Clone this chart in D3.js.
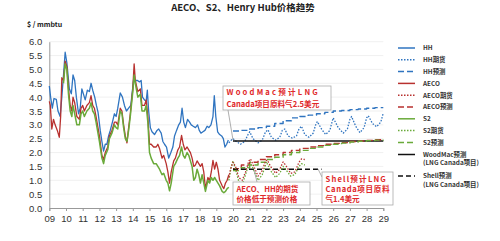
<!DOCTYPE html>
<html>
<head>
<meta charset="utf-8">
<script src="https://cdn.jsdelivr.net/npm/d3@7"></script>
<style>
  body { margin: 0; background: #fff; }
  svg { font-family: "Liberation Sans", Arial, "Noto Sans CJK SC", sans-serif; }
  .ann { font-family: "Noto Sans CJK SC", sans-serif; font-weight: bold; fill: #e0282a; font-size: 7.6px; }
  .leg { font-family: "Noto Sans CJK SC", sans-serif; font-size: 6.4px; font-weight: bold; fill: #333; }
</style>
</head>
<body>
<svg id="chart" width="500" height="241"></svg>
<script>
// ---- data (year fraction, $/mmbtu) ----
const hh = [[2009.0,4.4],[2009.08,4.0],[2009.18,3.6],[2009.28,3.95],[2009.42,3.92],[2009.52,3.5],[2009.65,3.3],[2009.75,4.0],[2009.85,4.8],[2009.95,5.62],[2010.05,5.25],[2010.2,4.3],[2010.32,4.12],[2010.42,4.8],[2010.52,4.6],[2010.62,4.0],[2010.75,3.4],[2010.85,3.6],[2010.95,4.3],[2011.05,4.1],[2011.15,3.9],[2011.28,4.25],[2011.4,4.2],[2011.5,4.5],[2011.6,4.25],[2011.72,4.0],[2011.82,3.7],[2011.92,3.45],[2012.05,2.8],[2012.15,2.4],[2012.25,2.05],[2012.35,2.3],[2012.45,2.3],[2012.55,2.6],[2012.65,2.8],[2012.78,3.1],[2012.9,3.4],[2013.0,3.3],[2013.1,3.6],[2013.25,4.15],[2013.38,4.0],[2013.5,3.7],[2013.62,3.5],[2013.75,3.6],[2013.88,3.7],[2013.97,4.2],[2014.05,4.65],[2014.15,4.6],[2014.28,4.6],[2014.4,4.55],[2014.5,4.6],[2014.58,4.0],[2014.7,3.9],[2014.8,3.85],[2014.87,4.25],[2014.95,3.5],[2015.05,2.9],[2015.15,2.75],[2015.3,2.65],[2015.45,2.8],[2015.55,2.85],[2015.7,2.7],[2015.8,2.4],[2015.9,2.3],[2016.02,2.2],[2016.15,1.8],[2016.28,2.0],[2016.4,2.2],[2016.5,2.6],[2016.62,2.8],[2016.75,3.0],[2016.85,3.1],[2016.95,3.6],[2017.05,3.1],[2017.15,2.9],[2017.28,3.2],[2017.4,3.1],[2017.5,3.0],[2017.62,2.95],[2017.75,2.9],[2017.88,3.0],[2017.98,2.8],[2018.08,2.7],[2018.2,2.75],[2018.32,2.8],[2018.45,2.95],[2018.55,2.9],[2018.68,3.0],[2018.8,3.3],[2018.88,4.05],[2018.97,3.3],[2019.08,2.75],[2019.2,2.65],[2019.32,2.6],[2019.42,2.5],[2019.52,2.2],[2019.62,2.3],[2019.72,2.45]];
const aeco = [[2009.0,3.85],[2009.06,3.7],[2009.15,2.85],[2009.25,3.2],[2009.35,3.0],[2009.48,2.8],[2009.6,2.55],[2009.68,3.3],[2009.75,4.7],[2009.85,4.6],[2009.95,5.3],[2010.05,5.1],[2010.15,4.3],[2010.25,3.7],[2010.35,3.5],[2010.42,4.0],[2010.52,3.8],[2010.65,3.3],[2010.8,3.2],[2010.9,3.6],[2011.0,3.7],[2011.1,3.5],[2011.25,3.7],[2011.4,3.8],[2011.5,4.05],[2011.6,3.7],[2011.7,3.6],[2011.8,3.3],[2012.0,2.6],[2012.15,1.9],[2012.25,1.75],[2012.35,2.0],[2012.5,2.2],[2012.6,2.6],[2012.75,2.8],[2012.9,3.1],[2013.0,3.1],[2013.1,3.0],[2013.25,3.6],[2013.35,3.5],[2013.45,3.0],[2013.55,2.6],[2013.65,2.35],[2013.75,2.9],[2013.85,3.4],[2014.0,4.3],[2014.08,5.2],[2014.15,4.6],[2014.3,4.2],[2014.45,4.3],[2014.55,3.7],[2014.7,3.7],[2014.8,3.9],[2014.9,3.3],[2015.0,2.3],[2015.1,2.3],[2015.25,2.2],[2015.4,2.2],[2015.5,2.3],[2015.6,2.15],[2015.75,1.8],[2015.85,1.9],[2016.0,1.6],[2016.1,1.3],[2016.2,0.9],[2016.3,1.3],[2016.45,1.7],[2016.55,1.8],[2016.7,2.1],[2016.8,2.2],[2016.92,2.62],[2017.02,2.3],[2017.12,2.1],[2017.25,2.2],[2017.35,2.1],[2017.45,2.0],[2017.55,1.8],[2017.65,1.5],[2017.75,1.55],[2017.85,1.7],[2017.95,1.6],[2018.05,1.5],[2018.15,1.6],[2018.25,1.3],[2018.35,0.7],[2018.5,1.1],[2018.6,1.0],[2018.7,1.3],[2018.8,1.72],[2018.9,1.4],[2019.0,1.65],[2019.1,1.4],[2019.2,1.0],[2019.35,0.8],[2019.45,0.7],[2019.55,0.9],[2019.65,1.0],[2019.75,1.2]];
const s2 = [[2009.85,4.5],[2009.95,5.2],[2010.05,5.0],[2010.15,4.1],[2010.25,3.5],[2010.35,3.3],[2010.42,3.7],[2010.52,3.4],[2010.65,3.0],[2010.8,3.0],[2010.9,3.4],[2011.0,3.5],[2011.1,3.3],[2011.25,3.5],[2011.4,3.6],[2011.5,3.8],[2011.6,3.5],[2011.7,3.4],[2011.8,3.1],[2012.0,2.4],[2012.15,1.8],[2012.25,1.6],[2012.35,1.9],[2012.5,2.1],[2012.6,2.5],[2012.75,2.7],[2012.9,3.0],[2013.0,2.9],[2013.1,2.85],[2013.25,3.5],[2013.35,3.4],[2013.45,2.9],[2013.55,2.5],[2013.65,2.4],[2013.75,2.8],[2013.85,3.3],[2014.0,4.2],[2014.08,4.8],[2014.15,4.5],[2014.3,4.0],[2014.45,4.1],[2014.55,3.5],[2014.7,3.5],[2014.8,3.7],[2014.9,3.1],[2015.0,2.0],[2015.1,1.8],[2015.25,1.6],[2015.4,1.6],[2015.5,1.5],[2015.6,1.4],[2015.75,1.2],[2015.85,1.25],[2016.0,1.0],[2016.1,0.9],[2016.2,0.62],[2016.3,0.9],[2016.45,1.5],[2016.55,1.6],[2016.7,1.8],[2016.8,1.9],[2016.92,2.2],[2017.02,1.9],[2017.12,1.8],[2017.25,2.0],[2017.35,1.9],[2017.45,1.7],[2017.55,1.5],[2017.65,1.0],[2017.75,1.1],[2017.85,1.4],[2017.95,1.2],[2018.05,0.9],[2018.15,1.2],[2018.25,0.9],[2018.35,0.6],[2018.5,1.0],[2018.6,0.9],[2018.7,1.1],[2018.8,1.0],[2018.9,1.1],[2019.0,1.0],[2019.1,0.9],[2019.2,0.8],[2019.35,0.6],[2019.45,0.55],[2019.55,0.6],[2019.65,0.7],[2019.75,0.75]];

const hhFut = [[2019.75,2.35],[2019.9,2.45],[2020.0,2.5],[2020.2,2.4],[2020.45,2.3],[2020.7,2.4],[2020.9,2.65],[2021.0,2.75],[2021.2,2.5],[2021.5,2.35],[2021.75,2.45],[2021.95,2.75],[2022.1,2.82],[2022.3,2.55],[2022.55,2.45],[2022.8,2.55],[2022.95,2.8],[2023.1,2.85],[2023.3,2.6],[2023.55,2.52],[2023.8,2.6],[2023.95,2.85],[2024.1,2.95],[2024.3,2.65],[2024.55,2.55],[2024.8,2.7],[2024.95,3.0],[2025.05,3.12],[2025.3,2.85],[2025.55,2.65],[2025.8,2.8],[2025.95,3.15],[2026.0,3.25],[2026.3,2.9],[2026.6,2.7],[2026.85,2.85],[2027.0,3.2],[2027.1,3.3],[2027.35,2.95],[2027.6,2.72],[2027.85,2.9],[2028.0,3.25],[2028.1,3.33],[2028.35,3.05],[2028.6,2.93],[2028.85,3.1],[2029.0,3.43]];
const aecoFut = [[2019.75,1.1],[2019.85,1.4],[2020.0,1.65],[2020.15,1.5],[2020.35,1.1],[2020.55,1.0],[2020.75,1.3],[2020.95,1.7],[2021.05,1.77],[2021.25,1.5],[2021.5,1.15],[2021.75,1.35],[2021.95,1.7],[2022.05,1.73],[2022.25,1.5],[2022.55,1.25],[2022.8,1.4],[2023.0,1.66],[2023.15,1.55],[2023.45,1.25],[2023.7,1.3],[2023.95,1.65],[2024.1,1.77],[2024.3,1.75]];
const s2Fut = [[2019.75,1.0],[2019.9,1.5],[2020.0,1.7],[2020.15,1.4],[2020.35,0.95],[2020.55,0.85],[2020.75,1.2],[2020.95,1.6],[2021.05,1.65],[2021.25,1.35],[2021.5,1.0],[2021.75,1.2],[2021.95,1.55],[2022.05,1.6],[2022.25,1.35],[2022.55,1.1],[2022.8,1.25],[2023.0,1.5],[2023.15,1.4],[2023.45,1.15],[2023.7,1.2],[2023.95,1.5],[2024.1,1.6],[2024.3,1.55]];

const hhFc = [[2020.0,2.78],[2020.5,2.8],[2021.0,2.85],[2021.5,2.9],[2022.0,2.95],[2022.5,3.05],[2023.0,3.15],[2023.5,3.25],[2024.0,3.3],[2024.5,3.35],[2025.0,3.4],[2025.5,3.45],[2026.0,3.5],[2026.5,3.52],[2027.0,3.55],[2027.5,3.57],[2028.0,3.6],[2028.5,3.62],[2029.0,3.62]];
const aecoFc = [[2020.0,1.42],[2020.5,1.55],[2021.0,1.65],[2021.5,1.75],[2022.0,1.85],[2022.5,1.92],[2023.0,2.0],[2023.5,2.08],[2024.0,2.15],[2024.5,2.2],[2025.0,2.25],[2025.5,2.3],[2026.0,2.33],[2026.5,2.36],[2027.0,2.4],[2027.5,2.42],[2028.0,2.44],[2028.5,2.46],[2029.0,2.47]];
const s2Fc = [[2020.0,1.35],[2020.5,1.45],[2021.0,1.55],[2021.5,1.65],[2022.0,1.75],[2022.5,1.83],[2023.0,1.92],[2023.5,2.0],[2024.0,2.08],[2024.5,2.15],[2025.0,2.2],[2025.5,2.26],[2026.0,2.3],[2026.5,2.34],[2027.0,2.38],[2027.5,2.41],[2028.0,2.43],[2028.5,2.45],[2029.0,2.46]];

const woodMac = [[2020.0,2.42],[2029.0,2.42]];
const shell = [[2020.0,1.4],[2025.3,1.4]];

const yTicks = d3.range(0, 6.01, 0.5);
const xTicks = d3.range(2009, 2030, 1);

const legendItems = [
  {label: ["HH"], color: "#2f74c0", dash: null},
  {label: ["HH期货"], color: "#2f74c0", dash: "1.5,1.5"},
  {label: ["HH预测"], color: "#2f74c0", dash: "6,3"},
  {label: ["AECO"], color: "#b8312f", dash: null},
  {label: ["AECO期货"], color: "#b8312f", dash: "1.5,1.5"},
  {label: ["AECO预测"], color: "#b8312f", dash: "6,3"},
  {label: ["S2"], color: "#6aaa3a", dash: null},
  {label: ["S2期货"], color: "#6aaa3a", dash: "1.5,1.5"},
  {label: ["S2预测"], color: "#6aaa3a", dash: "6,3"},
  {label: ["WoodMac预测", "(LNG Canada项目)"], color: "#111", dash: null},
  {label: ["Shell预测", "(LNG Canada项目)"], color: "#111", dash: "5,3"}
];

// ---- chart ----
const svg = d3.select("#chart");
const x = d3.scaleLinear().domain([2009, 2029]).range([49.3, 383.3]);
const y = d3.scaleLinear().domain([0, 6]).range([208, 41.7]);

svg.append("text").attr("x", 243).attr("y", 11).attr("text-anchor", "middle")
  .style("font-family", "'Noto Sans CJK SC', sans-serif").style("font-weight", "bold")
  .style("font-size", "9.5px").attr("fill", "#222").text("AECO、S2、Henry Hub价格趋势");

svg.append("text").attr("x", 27).attr("y", 27)
  .style("font-family", "'Noto Sans CJK SC', sans-serif").style("font-weight", "bold")
  .style("font-size", "7px").attr("fill", "#222").text("$ / mmbtu");

// grid
svg.append("g").selectAll("line").data(yTicks.filter(d => d > 0)).join("line")
  .attr("x1", x(2009)).attr("x2", x(2029))
  .attr("y1", d => y(d)).attr("y2", d => y(d))
  .attr("stroke", "#ececec").attr("stroke-width", 0.8);

const yAxis = svg.append("g").attr("transform", `translate(${x(2009)},0)`)
  .call(d3.axisLeft(y).tickValues(yTicks).tickFormat(d3.format(".1f")).tickSize(0).tickPadding(7));
yAxis.select(".domain").attr("stroke", "#999");
yAxis.selectAll("text").style("font-size", "9.5px").attr("fill", "#333");

const xAxis = svg.append("g").attr("transform", `translate(0,${y(0)})`)
  .call(d3.axisBottom(x).tickValues(xTicks).tickFormat(d => String(d % 100).padStart(2, "0")).tickSize(3).tickPadding(4));
xAxis.select(".domain").attr("stroke", "#999");
xAxis.selectAll("line").attr("stroke", "#999");
xAxis.selectAll("text").style("font-size", "9.5px").attr("fill", "#333");

const line = d3.line().x(d => x(d[0])).y(d => y(d[1]));
const step = d3.line().x(d => x(d[0])).y(d => y(d[1])).curve(d3.curveStepAfter);

function draw(data, gen, color, width, dash) {
  svg.append("path").datum(data).attr("d", gen)
    .attr("fill", "none").attr("stroke", color).attr("stroke-width", width)
    .attr("stroke-dasharray", dash).attr("stroke-linejoin", "round");
}

draw(hh, line, "#2f74c0", 1.3, null);
draw(aeco, line, "#b8312f", 1.3, null);
draw(s2, line, "#6aaa3a", 1.5, null);

draw(hhFut, line, "#2f74c0", 1.3, "1.5,1.5");
draw(woodMac, line, "#111", 1.6, null);
draw(hhFc, step, "#2f74c0", 1.4, "6,3");
draw(aecoFc, step, "#b8312f", 1.4, "6,3");
draw(s2Fc, step, "#6aaa3a", 1.4, "6,3");
draw(shell, line, "#111", 1.4, "5,3");
draw(s2Fut, line, "#6aaa3a", 1.3, "1.5,1.5");
draw(aecoFut, line, "#b8312f", 1.3, "1.5,1.5");

// annotations
function box(x0, y0, w, h, lines, lineY, spacing) {
  svg.append("rect").attr("x", x0).attr("y", y0).attr("width", w).attr("height", h)
    .attr("fill", "#fff").attr("stroke", "#aaa").attr("stroke-width", 0.8);
  lines.forEach((t, i) => {
    svg.append("text").attr("class", "ann").attr("x", x0 + 3.5).attr("y", lineY[i])
      .style("letter-spacing", (spacing[i] || 0) + "px").text(t);
  });
}
function leader(x1, y1, x2, y2) {
  svg.append("line").attr("x1", x1).attr("y1", y1).attr("x2", x2).attr("y2", y2)
    .attr("stroke", "#999").attr("stroke-width", 0.8);
}

leader(228, 110, 233, 140);
box(223, 86, 108, 24, ["WoodMac预计LNG", "Canada项目原料气2.5美元"], [95, 107], [2.2, 0]);
leader(257, 182, 254, 170);
box(233, 182, 77, 23, ["AECO、HH的期货", "价格低于预测价格"], [192, 202], [0, 0]);
leader(318, 169, 322, 177);
box(322, 172, 71, 33, ["Shell预计LNG", "Canada项目原料", "气1.4美元"], [182, 192, 202], [1.2, 0.6, 0]);

// legend
const lg = svg.append("g");
const legY = [48, 59.8, 71.6, 83.4, 95.2, 107, 118.8, 130.6, 142.4, 154.5, 176];
legendItems.forEach((it, i) => {
  lg.append("line").attr("x1", 398).attr("x2", 415).attr("y1", legY[i]).attr("y2", legY[i])
    .attr("stroke", it.color).attr("stroke-width", 1.5).attr("stroke-dasharray", it.dash);
  it.label.forEach((t, j) => {
    lg.append("text").attr("class", "leg").attr("x", 423).attr("y", legY[i] + 2.3 + j * 8.6).text(t);
  });
});
</script>
</body>
</html>
